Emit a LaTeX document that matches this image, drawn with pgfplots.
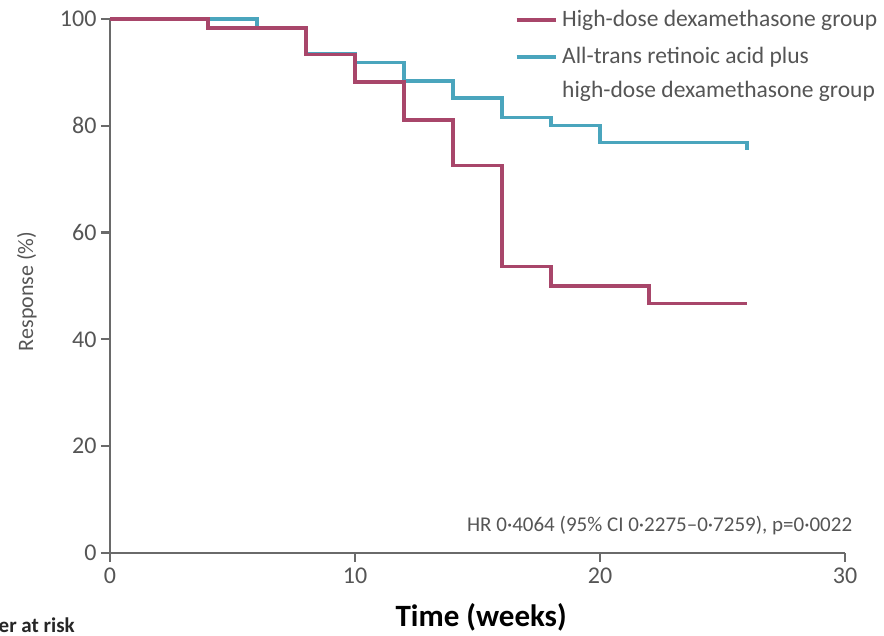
\documentclass[border=0pt]{standalone}
\usepackage{fontspec}
\setmainfont{Carlito}
\usepackage{pgfplots}
\pgfplotsset{compat=1.18}
\definecolor{redc}{HTML}{A8466A}
\definecolor{bluec}{HTML}{4AA5BD}
\definecolor{axgray}{HTML}{6A6A6A}
\definecolor{txtgray}{HTML}{555555}
\begin{document}
\begin{tikzpicture}[x=1pt,y=1pt]
\begin{axis}[
  scale only axis, width=735pt, height=534pt,
  xmin=0, xmax=30, ymin=0, ymax=100,
  axis lines*=left,
  xtick={0,10,20,30}, ytick={0,20,40,60,80,100},
  tick align=outside, major tick length=9pt,
  tick style={axgray, line width=2.2pt},
  axis line style={axgray, line width=2.8pt},
  /pgf/number format/assume math mode=true,
  ticklabel style={font=\fontsize{24}{28}\selectfont, text=txtgray},
  xticklabel style={yshift=-2pt},
  yticklabel style={xshift=-1pt},
  xlabel={\textbf{Time (weeks)}},
  xlabel style={at={(axis description cs:0.505,0)}, anchor=center, yshift=-64pt, font=\fontsize{31}{36}\selectfont, text=black},
  ylabel={Response (\%)},
  ylabel style={at={(axis description cs:-0.113,0.49)}, anchor=center, font=\fontsize{22}{26}\selectfont, text=txtgray},
  clip=false,
]
\addplot[const plot, bluec, line width=3.2pt] coordinates {
 (0,100) (6,98.3) (8,93.6) (10,91.9) (12,88.4) (14,85.2) (16,81.6) (18,80.1) (20,76.8) (26,76.8) (26,75.5)};
\addplot[const plot, redc, line width=3.2pt] coordinates {
 (0,100) (4,98.3) (8,93.3) (10,88.2) (12,81.1) (14,72.5) (16,53.6) (18,50) (22,46.7) (26,46.7)};
% legend
\draw[redc, line width=3.2pt] (axis cs:16.6,99.8) -- (axis cs:18.2,99.8);
\node[anchor=west, text=txtgray, font=\fontsize{23.5}{27}\selectfont, inner sep=0pt] at (axis cs:18.45,99.8) {High-dose dexamethasone group};
\draw[bluec, line width=3.2pt] (axis cs:16.6,92.9) -- (axis cs:18.2,92.9);
\node[anchor=west, text=txtgray, font=\fontsize{23.5}{27}\selectfont, inner sep=0pt] at (axis cs:18.45,92.9) {All-trans retinoic acid plus};
\node[anchor=west, text=txtgray, font=\fontsize{23.5}{27}\selectfont, inner sep=0pt] at (axis cs:18.45,86.5) {high-dose dexamethasone group};
\node[anchor=east, text=txtgray, font=\fontsize{21}{25}\selectfont, inner sep=0pt] at (axis cs:30.3,5.2) {HR 0·4064 (95\% CI 0·2275–0·7259), p=0·0022};
\node[anchor=east, text=black!85, font=\bfseries\fontsize{21}{25}\selectfont, inner sep=0pt] at (axis cs:-1.43,-13.5) {Number at risk};
\end{axis}
\pgfresetboundingbox
\path (-110pt,-82pt) rectangle (774pt,553pt);
\end{tikzpicture}
\end{document}
